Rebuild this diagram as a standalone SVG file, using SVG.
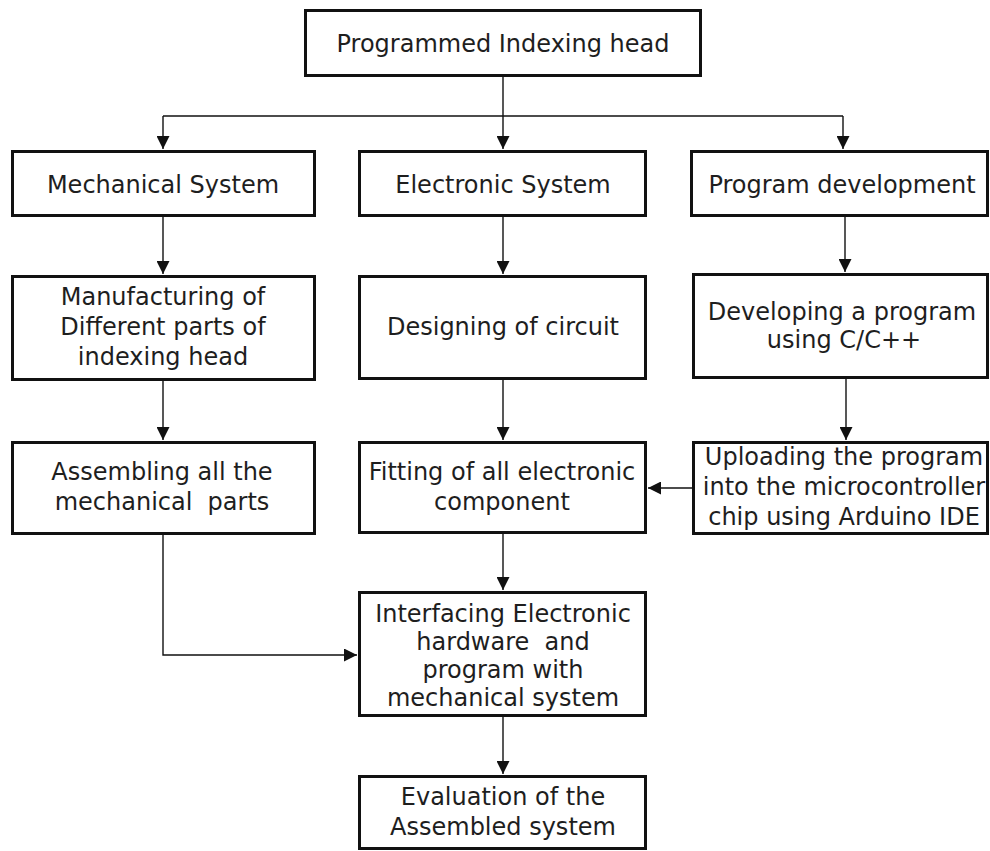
<svg xmlns="http://www.w3.org/2000/svg" width="990" height="851" viewBox="0 0 990 851">
<style>
.box{fill:#fff;stroke:#111;stroke-width:3}
.t{font-family:"DejaVu Sans","Noto Sans",sans-serif;font-size:24px;fill:#1e1e1e;text-anchor:middle;white-space:pre}
.c{fill:none;stroke:#111;stroke-width:1.4}
</style>
<defs>
<marker id="ah" markerWidth="13" markerHeight="13" viewBox="0 0 13 13" refX="13" refY="6.5" orient="auto" markerUnits="userSpaceOnUse">
<path d="M0,0 L13,6.5 L0,13 Z" fill="#111"/>
</marker>
</defs>
<rect width="990" height="851" fill="#fff"/>
<g id="connectors">
<path class="c" d="M503,77 V116"/>
<path class="c" d="M163,116 H843"/>
<path class="c" d="M163,116 V149" marker-end="url(#ah)"/>
<path class="c" d="M503,116 V149" marker-end="url(#ah)"/>
<path class="c" d="M843,116 V149" marker-end="url(#ah)"/>
<path class="c" d="M163,217 V274" marker-end="url(#ah)"/>
<path class="c" d="M503,217 V274" marker-end="url(#ah)"/>
<path class="c" d="M845,217 V272" marker-end="url(#ah)"/>
<path class="c" d="M163,381 V440" marker-end="url(#ah)"/>
<path class="c" d="M503,380 V440" marker-end="url(#ah)"/>
<path class="c" d="M846,379 V440" marker-end="url(#ah)"/>
<path class="c" d="M692,488 H648" marker-end="url(#ah)"/>
<path class="c" d="M503,534 V590" marker-end="url(#ah)"/>
<path class="c" d="M163,535 V655 H357" marker-end="url(#ah)"/>
<path class="c" d="M503,717 V774" marker-end="url(#ah)"/>
</g>
<g id="n-top"><rect class="box" x="305.5" y="10.5" width="395" height="65"/><text class="t" x="503" y="52">Programmed Indexing head</text></g>
<g id="n-mech"><rect class="box" x="12.5" y="151.5" width="302" height="64"/><text class="t" x="163" y="193">Mechanical System</text></g>
<g id="n-elec"><rect class="box" x="359.5" y="151.5" width="286" height="64"/><text class="t" x="503" y="193">Electronic System</text></g>
<g id="n-prog"><rect class="box" x="691.5" y="151.5" width="296" height="64"/><text class="t" x="842" y="193">Program development</text></g>
<g id="n-manuf"><rect class="box" x="12.5" y="276.5" width="302" height="103"/><text class="t" x="163" y="305">Manufacturing of</text><text class="t" x="163" y="335">Different parts of</text><text class="t" x="163" y="365">indexing head</text></g>
<g id="n-design"><rect class="box" x="359.5" y="276.5" width="286" height="102"/><text class="t" x="503" y="335">Designing of circuit</text></g>
<g id="n-develop"><rect class="box" x="693.5" y="274.5" width="294" height="103"/><text class="t" x="842" y="320">Developing a program</text><text class="t" x="844" y="348">using C/C++</text></g>
<g id="n-assemble"><rect class="box" x="12.5" y="442.5" width="302" height="91"/><text class="t" x="162" y="480">Assembling all the</text><text class="t" x="162" y="510">mechanical  parts</text></g>
<g id="n-fitting"><rect class="box" x="359.5" y="442.5" width="286" height="90"/><text class="t" x="502" y="480">Fitting of all electronic</text><text class="t" x="502" y="510">component</text></g>
<g id="n-upload"><rect class="box" x="693.5" y="442.5" width="294" height="91"/><text class="t" x="844" y="465">Uploading the program</text><text class="t" x="844" y="495">into the microcontroller</text><text class="t" x="844" y="525">chip using Arduino IDE</text></g>
<g id="n-interface"><rect class="box" x="359.5" y="592.5" width="286" height="123"/><text class="t" x="503" y="622">Interfacing Electronic</text><text class="t" x="503" y="650">hardware  and</text><text class="t" x="503" y="678">program with</text><text class="t" x="503" y="706">mechanical system</text></g>
<g id="n-eval"><rect class="box" x="359.5" y="776.5" width="286" height="72"/><text class="t" x="503" y="805">Evaluation of the</text><text class="t" x="503" y="835">Assembled system</text></g>
</svg>
